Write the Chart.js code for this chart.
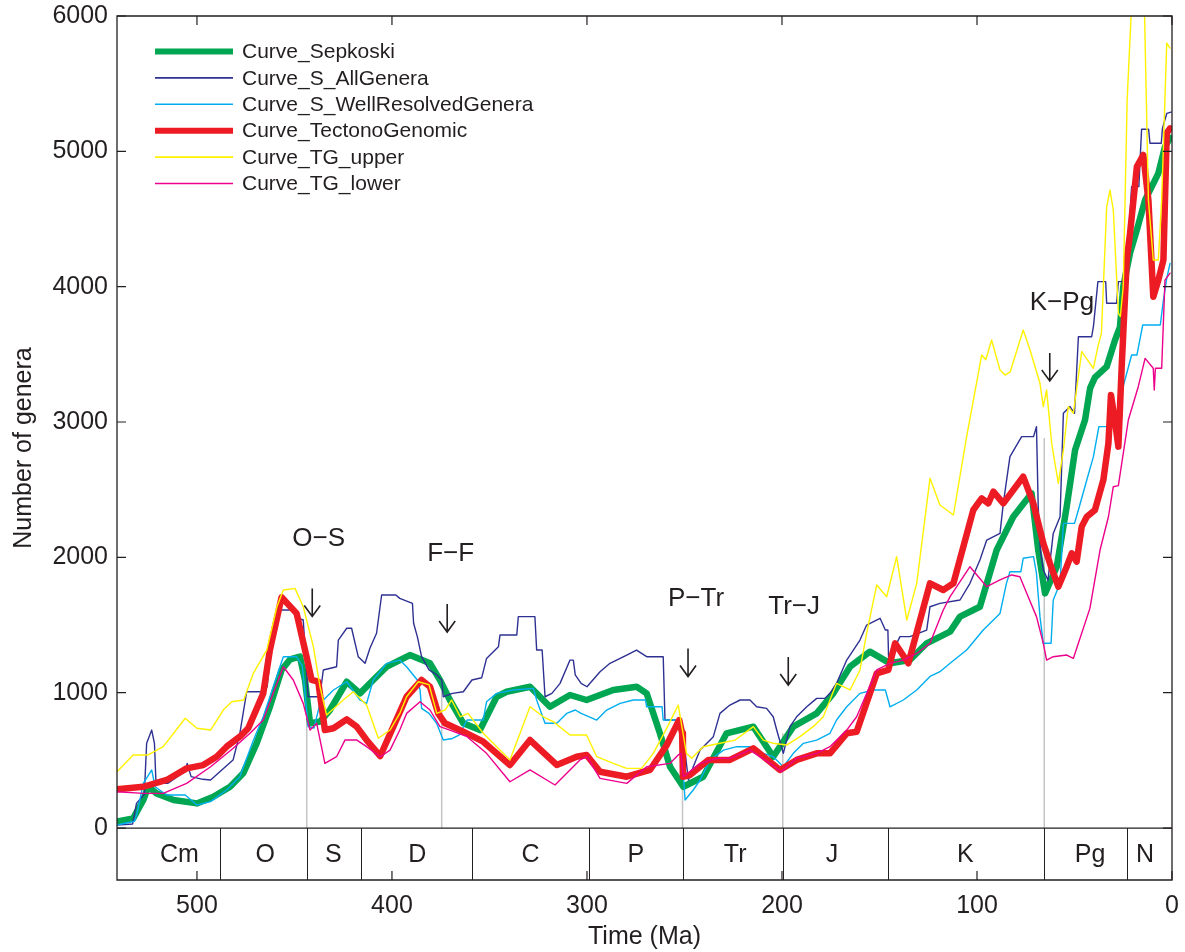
<!DOCTYPE html>
<html><head><meta charset="utf-8">
<script src="https://cdn.jsdelivr.net/npm/chart.js@4.4.1/dist/chart.umd.min.js"></script>
<style>html,body{margin:0;padding:0;background:#fff;}canvas{display:block;}</style>
</head><body>
<canvas id="c" width="1185" height="952" style="width:1185px;height:952px"></canvas>
<script>
// ---------------- data (ages in Ma, values = number of genera) ----------------
const sepkAge = [541,532.7,527.5,525,520.7,512,500,491.6,483,476.3,469.4,462.6,456.6,452.3,447.2,444.6,442,436.9,431.8,423.2,416.4,409.6,402.7,399.3,390.8,380.5,375.4,370.3,363.4,354.9,346.3,341.2,329.2,319,308.7,300.2,286.5,274.5,269.4,262.6,257.4,250.6,240.4,228.4,214.7,204.5,194.2,182.2,173.7,165.1,154.9,144.6,134.4,125.8,113.8,108.7,98.5,89.9,81.4,72,68.6,65.1,59.1,54,49.7,44.6,42,39.5,33.5,29.2,26.7,25,21.5,18,13.8,7,3.6,1];
const sepkVal = [47,71,207,305,256,207,182,231,305,404,626,896,1168,1246,1266,1094,774,786,872,1081,995,1094,1192,1217,1278,1217,1094,946,774,724,970,1007,1044,896,983,946,1020,1044,995,700,453,305,379,700,749,527,749,847,995,1192,1303,1217,1241,1365,1451,1562,1635,2054,2300,2473,2054,1734,1931,2374,2793,3015,3250,3330,3409,3606,3700,4000,4250,4420,4640,4837,5034,5100];

const allAge = [541,533,531,527,525.8,523.2,521.8,521,515,510,506,505,503,497,493,488,481.5,478,474.5,465.5,464,462.6,459,450.6,448,445.5,443,437,435.2,428.4,427.5,423.2,420.7,417.3,413.8,411.3,407.9,405.3,398,396,389.5,388.9,387,384.8,381,377,374.5,373.7,369,363.4,359,354,351.5,345.4,344.6,336,335.2,326.7,325.8,323,321.5,318,313.8,308.7,307,306,303,300,293.3,288.2,279.6,274.6,269.4,260.9,260,252.5,250.8,248,245.5,242,235.2,231.8,226.7,221.5,216.4,213,207.9,204.5,202.7,199.3,195.9,192.5,187.3,182.2,178,175.4,172,166.8,163.4,160,156.6,149.7,147,145.7,145.3,139.5,134.4,125.8,124.1,119,108.7,103.6,98.5,95,88.2,86.5,83.1,77.1,71,69.5,68.6,67.5,66,63.6,60.9,57.4,55.7,52.3,50,48,41.2,40.3,38,34,33.5,28.4,27.5,25,22.5,20.7,17,15.6,12,11.3,5.5,4.9,2.7,0.5];
const allVal = [22,30,182,250,626,724,626,330,330,380,420,478,380,360,355,420,502,700,1007,1007,1044,1241,1611,1611,1550,1537,970,970,1168,1192,1389,1476,1476,1266,1217,1328,1439,1722,1722,1697,1660,1513,1414,1266,1168,1131,1094,970,995,1007,1094,1110,1253,1340,1426,1426,1562,1562,1315,1315,970,995,1069,1241,1241,1131,1069,1044,1155,1217,1278,1315,1266,1266,798,798,700,355,453,576,675,847,909,946,946,896,884,822,724,552,749,822,896,958,958,995,1069,1241,1315,1389,1500,1550,1463,1463,1241,1414,1414,1463,1635,1660,1685,1808,1980,2128,2177,2399,2744,2892,2892,2966,2374,2054,1906,1832,2177,2300,3064,3114,3064,3630,3630,3704,4037,4037,3877,3877,4037,4037,4300,4739,4739,5163,5163,5060,5060,5170,5280,5290];

const wellAge = [541,532,530.7,527.5,523.2,521.5,515.5,506,500,493,484.8,478,471,466,460.9,455.7,449,446,444.6,443,440,436.9,430,423.2,416.4,413,409.6,402.7,396,392.5,387,385.6,384.8,381,377.1,373.7,369,365.6,361.5,353.2,351.5,346.3,337.8,327.5,325.8,321.5,315.5,310.4,306,303,295,289.9,283,276.2,270,269.4,261.5,260.9,253.2,252,249.7,245.5,242,236.9,230,223.2,214.7,209.6,204.5,199.3,194.2,189,182.2,175.4,172,166.8,160,153.2,147,144.6,137.8,130.9,124.1,119,113.8,105.3,96.8,88.2,84.9,83.1,77.5,76.3,71,69.5,67.7,66,62,60.9,57.4,55.7,50,48,43.7,40.3,37.5,28,25.5,20.7,18,15,6,4.4,2.7,1];
const wellVal = [22,50,111,330,429,305,244,244,170,195,281,379,650,822,1044,1266,1266,1200,995,750,738,921,1020,1081,946,921,1094,1217,1241,1192,1094,1020,884,847,774,650,662,687,798,798,933,995,1020,1032,946,774,774,847,872,847,798,872,921,946,946,896,896,798,798,700,207,281,355,503,576,601,601,552,527,453,552,626,650,700,798,896,995,1020,1020,896,946,1020,1120,1155,1217,1315,1463,1586,1808,1894,1894,1993,2005,1882,1562,1365,1365,1685,1808,2251,2251,2350,2572,2744,2966,2966,3237,3495,3495,3717,3717,3901,4062,4172];

const tgAge = [541,527.5,515.5,505.3,496.8,489.9,484.8,478,473.7,466,462.6,456.6,448.9,443.8,441.2,437.8,434.4,430,423.2,418.1,413,406,399.3,392.5,384.8,380.5,376.3,372.8,363.4,353.2,339.5,329.2,315.5,305.3,300.2,293.3,279.6,267.7,259.1,252.7,251.2,250.8,247.2,237.8,226.7,214.7,201,192.5,182.2,175.4,166.8,161.7,151.4,145.5,142,135.2,124.1,117.3,112.1,101.9,97.6,94.2,91.6,86.5,76.3,71.1,66,62.6,58.3,54,51.4,48.9,46.3,43.7,39.5,35.2,32.6,31.3,29.2,27.5,25.8,23.2,21.5,18,14.7,12.1,9.6,7,4.4,2.7,1];
const tgVal = [286,305,355,441,465,527,601,675,737,995,1315,1705,1586,1266,1094,1081,724,737,803,749,650,532,749,970,1094,1044,847,774,712,638,466,650,466,527,540,416,379,429,613,798,700,379,392,503,503,589,429,503,552,552,700,712,1143,1168,1365,1217,1808,1759,1808,2350,2436,2399,2485,2399,2596,2399,2104,1956,1783,1931,2030,1968,2227,2300,2350,2572,2843,3200,3000,2818,3409,4197,4395,4887,4973,4640,3926,4049,4197,5134,5170];

const upAge = [541,532.7,525,517.3,506,500,493,486.5,482.2,476,471.1,464.2,459,455.7,449.7,445.5,440.3,436.9,433.5,425,419.8,413,407,401,396,392.5,386.5,381,377,372.8,369.4,365,361,353.2,346.3,339.5,329.2,322.4,317.3,308.7,300.2,295,286.5,279.6,272,266,259,253.2,249,246.3,240.4,231.8,224,214.7,209.6,204.5,197.6,190.8,184,178.8,172,165.1,160,156.6,151.4,146.3,141.2,136,130.9,124.1,119,112.1,105.3,97.6,95.5,92.5,88.2,85.6,83,76.3,72.8,67.7,66,64.3,61.7,58.3,55.7,53.2,50.6,46.3,40.3,38,36.2,33.5,31.8,30.1,27.5,26.5,25,23,21,19.5,16,14.2,12.1,9.6,7,5.3,2.7,1];
const upVal = [416,540,540,601,811,737,724,872,933,946,1143,1315,1635,1759,1771,1635,1340,1044,835,946,1007,909,663,724,847,970,1081,1060,847,872,946,822,847,700,601,503,896,822,786,687,687,527,478,441,441,552,740,909,552,515,601,626,650,749,650,626,613,675,749,822,1069,1020,1168,1439,1796,1709,2005,1537,1808,2584,2387,2313,2892,3495,3460,3606,3384,3347,3370,3680,3532,3286,3114,3237,2843,2547,2793,3114,3064,3520,3397,3557,3655,4591,4714,4567,3803,3780,4000,5380,6000,6350,6400,6100,4640,4197,4197,4640,5800,5762];

const lowAge = [541,527.5,517.3,505.3,493,481.4,472.8,466,460.9,455.7,450.6,445.5,442,438.6,434.4,428.4,424.1,418,413,406,401,396,392.5,385.6,380.5,375.4,370.3,361.5,351.5,339.5,329.2,316.4,303.6,300,293.3,279.6,269.4,257.4,253.2,251.8,250.6,242,233.5,226.7,216.4,206.2,200.4,192.5,182.2,175.4,166.8,161.7,151.4,144.6,137.8,130.9,124.1,117.3,113.8,103.6,95,88.2,82.2,78,74.5,69.5,66,64.3,60.9,54,50.6,42.1,36.9,32.6,30.1,27.5,22.4,17.3,13.8,9.6,9.1,8.5,5.3,3.6,1];
const lowVal = [268,256,256,330,453,589,700,798,995,1192,1094,921,724,774,478,527,650,650,601,527,576,724,847,933,872,749,724,675,552,342,429,318,503,527,367,330,453,478,540,552,379,478,515,515,576,478,416,515,552,601,724,822,1168,1217,1241,1290,1365,1611,1710,1931,1783,1833,1870,1857,1734,1562,1365,1241,1266,1278,1253,1623,2054,2300,2522,2530,3015,3261,3470,3397,3237,3397,3397,4049,4100];

// extinction events
const eventLabels = ['O\u2212S','F\u2212F','P\u2212Tr','Tr\u2212J','K\u2212Pg'];
const eventAge = [443.7,374.5,251,199.6,65.5];
const eventLineTop = [1150,1094,700,700,2882];
const eventLabelVal = [2147,2032,1703,1640,3887];

// geologic periods
const periodNames = ['Cm','O','S','D','C','P','Tr','J','K','Pg','N'];
const periodStart = [542,488.3,443.7,416,359.2,299,251,199.6,145.5,65.5,23];
const periodLabelAge = [509,465,430,387,329,275,224,174.4,106,42,13.8];

// ticks
const xTickVals = [500,400,300,200,100,0];
const yTickVals = [0,1000,2000,3000,4000,5000,6000];

const seriesNames = ['Curve_Sepkoski','Curve_S_AllGenera','Curve_S_WellResolvedGenera','Curve_TectonoGenomic','Curve_TG_upper','Curve_TG_lower'];

// ---------------- styles ----------------
const FONT = '"Liberation Sans", Arial, Helvetica, sans-serif';
const INK = '#231f20';
const COLORS = ['#00a651','#2e3192','#00aeef','#ed1c24','#fff200','#ec008c'];
const WIDTHS = [6.5,1.4,1.4,6.5,1.4,1.4];

const pts = (a, v) => a.map((x, i) => ({x: x, y: v[i]}));
const seriesData = [pts(sepkAge,sepkVal), pts(allAge,allVal), pts(wellAge,wellVal), pts(tgAge,tgVal), pts(upAge,upVal), pts(lowAge,lowVal)];

const datasets = [];
eventAge.forEach((a, i) => {
  datasets.push({label:'ev'+i, data:[{x:a,y:0},{x:a,y:eventLineTop[i]}], borderColor:'#c4c4c4', borderWidth:1.5, order:20, pointRadius:0});
});
seriesData.forEach((d, i) => {
  datasets.push({label:seriesNames[i], data:d, borderColor:COLORS[i], borderWidth:WIDTHS[i], order:10-i,
    pointRadius:0, tension:0, borderJoinStyle:'round', borderCapStyle:'round', fill:false});
});

const noOverflow = s => { s.paddingTop = 0; s.paddingBottom = 0; s.paddingLeft = 0; s.paddingRight = 0; };

const decor = {
  id:'decor',
  afterDatasetsDraw(chart){
    const {ctx, chartArea:a, scales:{x, y}} = chart;
    const y0 = y.getPixelForValue(0);
    ctx.save();
    ctx.strokeStyle = INK; ctx.fillStyle = INK; ctx.lineWidth = 1.3;
    // frame
    ctx.beginPath();
    ctx.rect(a.left, a.top, a.right - a.left, a.bottom - a.top);
    ctx.stroke();
    // period bar
    ctx.fillStyle = '#fff';
    ctx.fillRect(a.left + 1, y0 + 1, a.right - a.left - 2, a.bottom - y0 - 2);
    ctx.fillStyle = INK;
    ctx.beginPath(); ctx.moveTo(a.left, y0); ctx.lineTo(a.right, y0); ctx.stroke();
    ctx.lineWidth = 1;
    periodStart.forEach((s, i) => {
      if (i === 0) return;
      const px = Math.round(x.getPixelForValue(s)) + 0.5;
      ctx.beginPath(); ctx.moveTo(px, y0); ctx.lineTo(px, a.bottom); ctx.stroke();
    });
    ctx.font = '25px ' + FONT; ctx.textAlign = 'center'; ctx.textBaseline = 'middle';
    periodNames.forEach((n, i) => {
      ctx.fillText(n, x.getPixelForValue(periodLabelAge[i]), (y0 + a.bottom) / 2 + 1);
    });
    // ticks
    ctx.lineWidth = 1.2;
    const TL = 9;
    xTickVals.forEach(v => {
      const px = x.getPixelForValue(v);
      ctx.beginPath();
      ctx.moveTo(px, a.bottom); ctx.lineTo(px, a.bottom - TL);
      ctx.moveTo(px, a.top); ctx.lineTo(px, a.top + TL);
      ctx.stroke();
    });
    yTickVals.forEach(v => {
      const py = y.getPixelForValue(v);
      ctx.beginPath();
      ctx.moveTo(a.left, py); ctx.lineTo(a.left + TL, py);
      ctx.moveTo(a.right, py); ctx.lineTo(a.right - TL, py);
      ctx.stroke();
    });
    // event annotations
    ctx.font = '26px ' + FONT; ctx.textAlign = 'left'; ctx.textBaseline = 'middle';
    ctx.lineWidth = 1.6; ctx.strokeStyle = '#231f20';
    eventLabels.forEach((t, i) => {
      const ax = x.getPixelForValue(eventAge[i]) + 5.5;
      const ly = y.getPixelForValue(eventLabelVal[i]);
      ctx.fillText(t, ax - 20, ly + 1);
      const t0 = ly + 51, t1 = ly + 79;
      ctx.beginPath();
      ctx.moveTo(ax, t0); ctx.lineTo(ax, t1);
      ctx.moveTo(ax - 8, t1 - 11); ctx.lineTo(ax, t1); ctx.lineTo(ax + 8, t1 - 11);
      ctx.stroke();
    });
    // legend
    ctx.font = '21px ' + FONT; ctx.textBaseline = 'middle'; ctx.textAlign = 'left';
    seriesNames.forEach((n, i) => {
      const ly = a.top + 35.5 + i * 26.4;
      ctx.strokeStyle = COLORS[i]; ctx.lineWidth = WIDTHS[i] === 6.5 ? 6 : 1.6;
      ctx.lineCap = 'butt';
      ctx.beginPath(); ctx.moveTo(155, ly); ctx.lineTo(233, ly); ctx.stroke();
      ctx.fillStyle = INK;
      ctx.fillText(n, 242, ly + 1);
    });
    ctx.restore();
  }
};

new Chart(document.getElementById('c'), {
  type:'line',
  data:{datasets:datasets},
  options:{
    responsive:false, animation:false, devicePixelRatio:1,
    layout:{padding:{top:16, right:13, left:0, bottom:0}},
    plugins:{legend:{display:false}, tooltip:{enabled:false}},
    elements:{point:{radius:0}, line:{tension:0}},
    scales:{
      x:{type:'linear', reverse:true, min:0, max:541,
        afterBuildTicks(s){ s.ticks = xTickVals.map(v => ({value:v})); },
        afterFit(s){ s.height = 72; noOverflow(s); },
        grid:{display:false, drawTicks:false}, border:{display:false},
        ticks:{font:{family:FONT, size:25}, color:INK, padding:11, maxRotation:0, autoSkip:false, callback:v => String(v)},
        title:{display:true, text:'Time (Ma)', font:{family:FONT, size:25}, color:INK, padding:{top:0, bottom:0}}
      },
      y:{type:'linear', min:-384, max:6000,
        afterBuildTicks(s){ s.ticks = yTickVals.map(v => ({value:v})); },
        afterFit(s){ s.width = 117; noOverflow(s); },
        grid:{display:false, drawTicks:false}, border:{display:false},
        ticks:{font:{family:FONT, size:25}, color:INK, padding:9, autoSkip:false, callback:v => String(v)},
        title:{display:true, text:'Number of genera', font:{family:FONT, size:25}, color:INK, padding:{top:9, bottom:0}}
      }
    }
  },
  plugins:[decor]
});
</script>
</body></html>
